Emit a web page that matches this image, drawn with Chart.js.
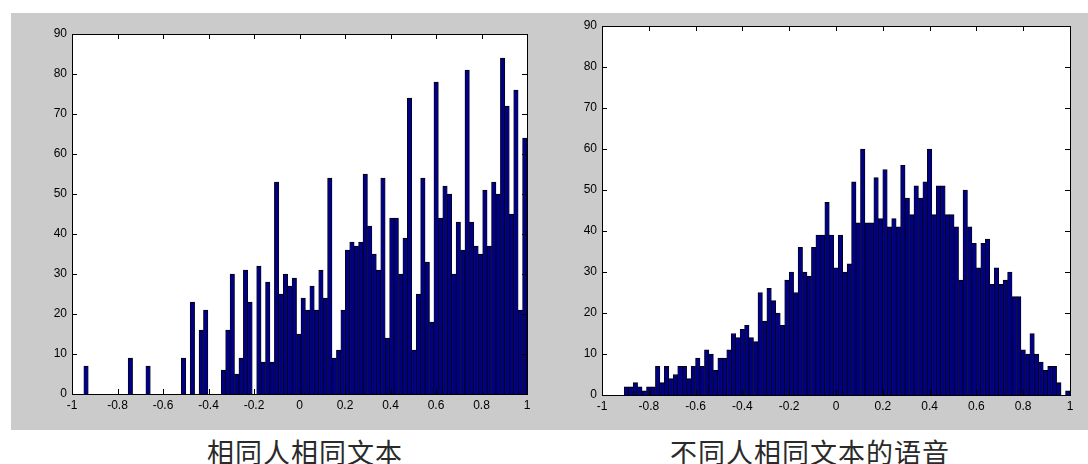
<!DOCTYPE html>
<html lang="zh">
<head>
<meta charset="UTF-8">
<title>相同文本直方图</title>
<script src="https://cdn.jsdelivr.net/npm/chart.js"></script>
<style>
  body { margin: 0; background: #fff; width: 1088px; height: 464px; position: relative; overflow: hidden; }
  .panel { position: absolute; top: 13px; height: 417px; background: #cbcbcb; }
  #p1 { left: 11px; width: 533px; }
  #p2 { left: 544px; width: 544px; }
  .cap { position: absolute; top: 437px; font-family: "Noto Sans CJK SC", sans-serif; font-size: 27px; line-height: 30px;
         letter-spacing: 1px; color: #2a2a2a; transform: translateX(-50%); white-space: nowrap; }
</style>
</head>
<body>
<div class="panel" id="p1"><canvas id="c1" width="533" height="417"></canvas></div>
<div class="panel" id="p2"><canvas id="c2" width="544" height="417"></canvas></div>
<div class="cap" style="left:305px">相同人相同文本</div>
<div class="cap" style="left:810px">不同人相同文本的语音</div>

<script>
// histogram 1: same speaker, same text (100 bins, first edge / width)
const sameStart = -0.948;
const sameBinWidth = 0.01948;
const sameCounts = [
  7, 0, 0, 0, 0, 0, 0, 0, 0, 0,
  9, 0, 0, 0, 7, 0, 0, 0, 0, 0,
  0, 0, 9, 0, 23, 0, 16, 21, 0, 0,
  0, 6, 16, 30, 5, 9, 31, 23, 0, 32,
  8, 28, 8, 53, 25, 30, 27, 29, 15, 24,
  21, 27, 21, 31, 24, 54, 9, 11, 21, 36,
  38, 37, 38, 55, 42, 35, 31, 54, 14, 44,
  44, 30, 39, 74, 11, 25, 54, 33, 18, 78,
  44, 52, 50, 30, 43, 36, 81, 43, 37, 35,
  51, 37, 53, 50, 84, 72, 45, 76, 21, 64
];

// histogram 2: different speakers, same text
const diffStart = -0.905;
const diffBinWidth = 0.01905;
const diffCounts = [
  2, 2, 3, 2, 1, 2, 2, 7, 3, 7,
  4, 5, 7, 7, 4, 7, 9, 7, 11, 10,
  6, 9, 9, 11, 15, 14, 16, 17, 14, 13,
  25, 18, 26, 23, 20, 17, 28, 30, 25, 36,
  30, 29, 36, 39, 39, 47, 39, 31, 39, 30,
  32, 52, 42, 60, 42, 42, 53, 43, 55, 41,
  43, 41, 56, 48, 44, 51, 48, 52, 60, 44,
  51, 51, 44, 44, 41, 28, 50, 41, 37, 31,
  37, 38, 27, 31, 27, 28, 30, 24, 24, 11,
  10, 15, 10, 8, 6, 7, 7, 3, 0, 1
];

const xMin = -1, xMax = 1, xStep = 0.2;
const yMin = 0, yMax = 90, yStep = 10;

const tickFont = { family: '"Liberation Sans", Arial, sans-serif', size: 12 };

// matlab style box with inward ticks on all four sides
const boxTicks = {
  id: 'boxTicks',
  afterDatasetsDraw(chart) {
    const { ctx, chartArea: a, scales: { x, y } } = chart;
    const len = 5;
    ctx.save();
    ctx.strokeStyle = '#000';
    ctx.lineWidth = 1;
    ctx.beginPath();
    x.ticks.forEach(t => {
      const px = Math.round(x.getPixelForValue(t.value)) + 0.5;
      ctx.moveTo(px, a.bottom); ctx.lineTo(px, a.bottom - len);
      ctx.moveTo(px, a.top); ctx.lineTo(px, a.top + len);
    });
    y.ticks.forEach(t => {
      const py = Math.round(y.getPixelForValue(t.value)) + 0.5;
      ctx.moveTo(a.left, py); ctx.lineTo(a.left + len, py);
      ctx.moveTo(a.right, py); ctx.lineTo(a.right - len, py);
    });
    ctx.stroke();
    ctx.strokeRect(Math.round(a.left) + 0.5, Math.round(a.top) + 0.5,
                   Math.round(a.right - a.left), Math.round(a.bottom - a.top));
    ctx.restore();
  }
};

const plotBg = {
  id: 'plotBg',
  beforeDraw(chart) {
    const { ctx, chartArea: a } = chart;
    ctx.save();
    ctx.fillStyle = '#fff';
    ctx.fillRect(a.left, a.top, a.right - a.left, a.bottom - a.top);
    ctx.restore();
  }
};

function makeHist(id, start, bw, counts, pad) {
  const pts = counts.map((c, i) => ({ x: start + (i + 0.5) * bw, y: c }));
  return new Chart(document.getElementById(id), {
    type: 'bar',
    data: {
      datasets: [{
        data: pts,
        backgroundColor: '#000080',
        borderColor: '#000',
        borderWidth: { top: 1, left: 0.7, right: 0.7, bottom: 0 },
        borderSkipped: false,
        barPercentage: 1,
        categoryPercentage: 1
      }]
    },
    options: {
      responsive: false,
      animation: false,
      layout: { padding: { top: pad.top, right: pad.right, left: 0, bottom: 0 } },
      plugins: { legend: { display: false }, tooltip: { enabled: false } },
      scales: {
        x: {
          type: 'linear', min: xMin, max: xMax, offset: false,
          grid: { display: false, drawTicks: false }, border: { display: false },
          ticks: { stepSize: xStep, padding: 4, color: '#000', font: tickFont, maxRotation: 0,
                   callback: v => String(Math.round(v * 10) / 10) },
          afterFit: s => { s.height = pad.xh; }
        },
        y: {
          min: yMin, max: yMax,
          grid: { display: false, drawTicks: false }, border: { display: false },
          ticks: { stepSize: yStep, padding: 5, color: '#000', font: tickFont },
          afterFit: s => { s.width = pad.yw; }
        }
      }
    },
    plugins: [plotBg, boxTicks]
  });
}

makeHist('c1', sameStart, sameBinWidth, sameCounts, { top: 21, right: 17, xh: 36, yw: 61 });
makeHist('c2', diffStart, diffBinWidth, diffCounts, { top: 13, right: 18, xh: 35, yw: 58 });
</script>
</body>
</html>
